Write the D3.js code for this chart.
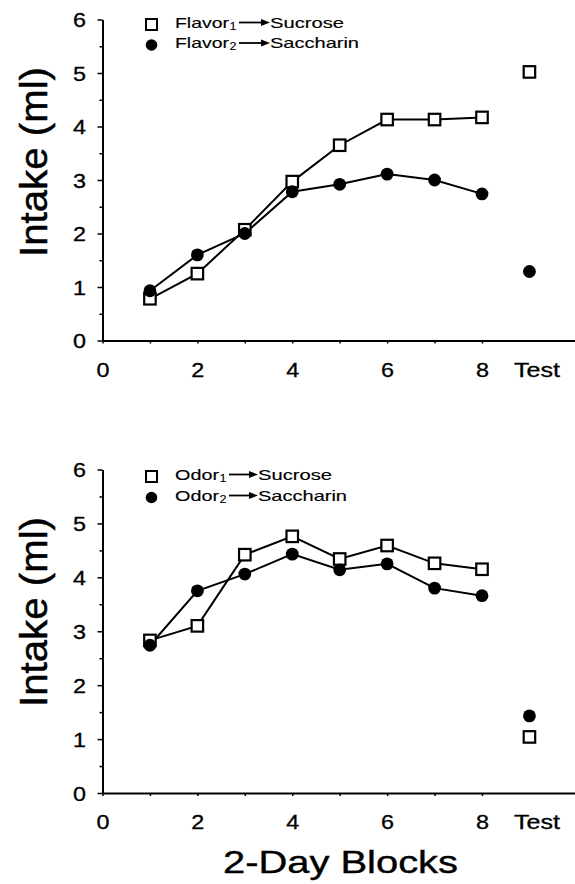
<!DOCTYPE html>
<html><head><meta charset="utf-8">
<script src="https://cdn.jsdelivr.net/npm/d3@7"></script>
<style>body{margin:0;background:#fff} svg{display:block}</style>
</head><body>
<svg id="c" width="575" height="884"></svg>
<script>
// ---- data ----
const blocks = [1, 2, 3, 4, 5, 6, 7, 8];
const testPos = 9;
const flavor1Sucrose   = [0.78, 1.25, 2.07, 2.97, 3.65, 4.13, 4.13, 4.17];
const flavor2Saccharin = [0.93, 1.60, 2.00, 2.78, 2.92, 3.11, 3.00, 2.74];
const flavorTest = [5.02, 1.29];   // [sucrose-paired, saccharin-paired]
const odor1Sucrose     = [2.83, 3.10, 4.42, 4.76, 4.34, 4.59, 4.26, 4.15];
const odor2Saccharin   = [2.74, 3.75, 4.06, 4.43, 4.14, 4.25, 3.80, 3.66];
const odorTest = [1.04, 1.43];
const xTicks = [0, 1, 2, 3, 4, 5, 6, 7, 8, 9];
const xTickLabels = ["0", "", "2", "", "4", "", "6", "", "8", "Test"];
const yTicks = [0, 0.5, 1, 1.5, 2, 2.5, 3, 3.5, 4, 4.5, 5, 5.5, 6];
const legendTop = [["Flavor", "1", "Sucrose"], ["Flavor", "2", "Saccharin"]];
const legendBottom = [["Odor", "1", "Sucrose"], ["Odor", "2", "Saccharin"]];
const yTitle = "Intake (ml)";
const xTitle = "2-Day Blocks";

const FONT = "'Liberation Sans', Arial, Helvetica, sans-serif";
const svg = d3.select("#c");

const x = d3.scaleLinear().domain([0, 9.95]).range([102.5, 574.5]);

function bold(sel, w) { return sel.attr("stroke", "#000").attr("stroke-width", w).attr("fill", "#000"); }

function panel(cfg) {
  const y = d3.scaleLinear().domain([0, 6]).range([cfg.y0, cfg.y6]);
  const g = svg.append("g");

  // y axis
  const ya = g.append("g").attr("transform", `translate(${x(0)},0)`)
    .call(d3.axisLeft(y).tickValues(yTicks).tickSizeOuter(0)
      .tickFormat(d => Number.isInteger(d) ? d : ""));
  ya.select(".domain").attr("stroke-width", 2);
  ya.selectAll(".tick line").attr("x2", d => Number.isInteger(d) ? -5 : -3).attr("stroke-width", 1.5);
  ya.selectAll(".tick text")
    .attr("x", -16.5).attr("dy", "0.36em")
    .style("font-family", FONT).style("font-size", "19.5px")
    .each(function(d){ if (Number.isInteger(d)) d3.select(this).attr("textLength", 13).attr("lengthAdjust", "spacingAndGlyphs"); });
  bold(ya.selectAll(".tick text"), 0.3);

  // x axis
  const xa = g.append("g").attr("transform", `translate(0,${cfg.y0})`)
    .call(d3.axisBottom(x).tickValues(xTicks).tickSizeOuter(0)
      .tickFormat((d, i) => xTickLabels[i]));
  xa.select(".domain").attr("stroke-width", 2);
  xa.selectAll(".tick line").attr("y2", d => d === testPos ? 0 : 3).attr("stroke-width", 1.5);
  xa.selectAll(".tick text")
    .attr("y", 22.5).attr("dy", "0.71em")
    .style("font-family", FONT).style("font-size", "19.5px")
    .each(function(d){
      const t = d3.select(this);
      if (d === testPos) t.attr("dx", 7).attr("textLength", 46).attr("lengthAdjust", "spacingAndGlyphs");
      else t.attr("textLength", 13).attr("lengthAdjust", "spacingAndGlyphs");
    });
  bold(xa.selectAll(".tick text"), 0.3);

  // y title
  bold(g.append("text")
    .attr("transform", `translate(47,${cfg.titleY}) rotate(-90)`)
    .attr("text-anchor", "middle")
    .attr("textLength", 190).attr("lengthAdjust", "spacingAndGlyphs")
    .style("font-family", FONT).style("font-size", "39px")
    .text(yTitle), 0.5);

  // lines
  const line = d3.line().x((d, i) => x(blocks[i])).y(d => y(d));
  g.append("path").datum(cfg.s1).attr("d", line)
    .attr("fill", "none").attr("stroke", "#000").attr("stroke-width", 2);
  g.append("path").datum(cfg.s2).attr("d", line)
    .attr("fill", "none").attr("stroke", "#000").attr("stroke-width", 2);

  const sq = 11.5;
  const pts1 = cfg.s1.map((v, i) => [blocks[i], v]).concat([[testPos, cfg.test[0]]]);
  const pts2 = cfg.s2.map((v, i) => [blocks[i], v]).concat([[testPos, cfg.test[1]]]);
  g.selectAll(null).data(pts1).enter().append("rect")
    .attr("x", d => x(d[0]) - sq / 2).attr("y", d => y(d[1]) - sq / 2)
    .attr("width", sq).attr("height", sq)
    .attr("fill", "#fff").attr("stroke", "#000").attr("stroke-width", 2.2);
  g.selectAll(null).data(pts2).enter().append("circle")
    .attr("cx", d => x(d[0])).attr("cy", d => y(d[1])).attr("r", 6.4)
    .attr("fill", "#000");

  // legend
  cfg.legend.forEach((L, i) => {
    const by = cfg.legY[i];
    if (i === 0) {
      g.append("rect").attr("x", 151.5 - 5.5).attr("y", by - 3 - 5.5)
        .attr("width", 11).attr("height", 11)
        .attr("fill", "#fff").attr("stroke", "#000").attr("stroke-width", 2);
    } else {
      g.append("circle").attr("cx", 151.5).attr("cy", by - 3).attr("r", 5.8).attr("fill", "#000");
    }
    const w1 = cfg.nameW;
    bold(g.append("text").attr("x", 175).attr("y", by)
      .attr("textLength", w1).attr("lengthAdjust", "spacingAndGlyphs")
      .style("font-family", FONT).style("font-size", "15px").text(L[0]), 0.15);
    bold(g.append("text").attr("x", 175 + w1 + 0.5).attr("y", by + 2)
      .attr("textLength", 7).attr("lengthAdjust", "spacingAndGlyphs")
      .style("font-family", FONT).style("font-size", "11px").text(L[1]), 0.1);
    const ax0 = 175 + w1 + 10, ax1 = cfg.arrowEnd;
    g.append("line").attr("x1", ax0).attr("x2", ax1 - 7).attr("y1", by - 5).attr("y2", by - 5)
      .attr("stroke", "#000").attr("stroke-width", 1.8);
    g.append("path").attr("d", `M${ax1 - 9},${by - 8.5} L${ax1},${by - 5} L${ax1 - 9},${by - 1.5} Z`).attr("fill", "#000");
    bold(g.append("text").attr("x", ax1).attr("y", by)
      .attr("textLength", L[2] === "Sucrose" ? 74 : 89).attr("lengthAdjust", "spacingAndGlyphs")
      .style("font-family", FONT).style("font-size", "15px").text(L[2]), 0.15);
  });
}

panel({ y0: 340.5, y6: 19.5, titleY: 162, s1: flavor1Sucrose, s2: flavor2Saccharin,
        test: flavorTest, legend: legendTop, legY: [27.5, 48], nameW: 54, arrowEnd: 270 });
panel({ y0: 793, y6: 469.5, titleY: 612, s1: odor1Sucrose, s2: odor2Saccharin,
        test: odorTest, legend: legendBottom, legY: [479.5, 500.5], nameW: 44, arrowEnd: 258 });

bold(svg.append("text").attr("x", 223).attr("y", 873)
  .attr("textLength", 235).attr("lengthAdjust", "spacingAndGlyphs")
  .style("font-family", FONT).style("font-size", "32px").text(xTitle), 0.4);
</script>
</body></html>
